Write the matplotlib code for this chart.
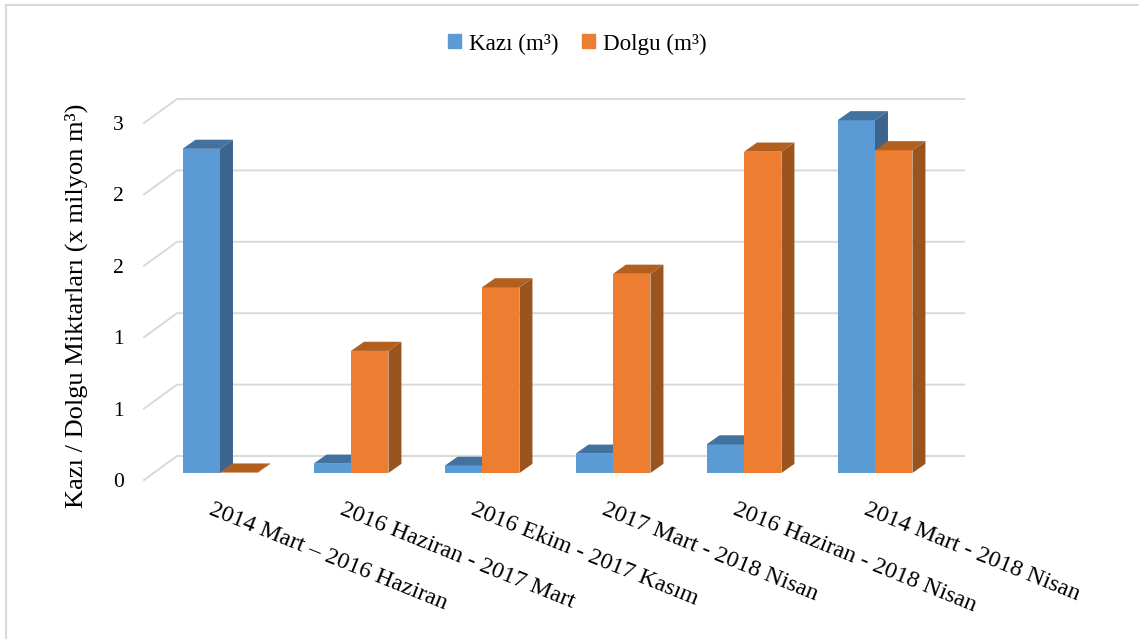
import matplotlib
matplotlib.use("Agg")
import matplotlib.pyplot as plt
from matplotlib.lines import Line2D
from matplotlib.patches import Patch, Polygon
from matplotlib.transforms import ScaledTranslation
import numpy as np

plt.rcParams['font.family'] = ['Liberation Serif', 'DejaVu Serif']

categories = [
    "2014 Mart – 2016 Haziran",
    "2016 Haziran - 2017 Mart",
    "2016 Ekim - 2017 Kasım",
    "2017 Mart - 2018 Nisan",
    "2016 Haziran - 2018 Nisan",
    "2014 Mart - 2018 Nisan",
]
kazi = [2.27, 0.065, 0.05, 0.135, 0.2, 2.47]
dolgu = [0.003, 0.855, 1.30, 1.395, 2.25, 2.26]
y_ticks = [0, 0.5, 1, 1.5, 2, 2.5]
y_tick_labels = ["0", "1", "1", "2", "2", "3"]

W, H = 1139, 639
BAR_W = 0.286
# 3d look, in data units
DX, DY = 0.099, 0.064
GRID = "#d9d9d9"

fig = plt.figure(figsize=(W / 100, H / 100), dpi=100)
ax = fig.add_axes([154.5 / W, 1 - 473 / H, 786 / W, 357 / H])
ax.set_xlim(-0.5, 5.5)
ax.set_ylim(0, 2.5)
ax.patch.set_visible(False)
for s in ax.spines.values():
    s.set_visible(False)

# outer frame of the chart
fig.add_artist(Line2D([6 / W, 6 / W], [0, 1 - 5 / H], color=GRID, lw=1.5))
fig.add_artist(Line2D([6 / W, 1], [1 - 5 / H, 1 - 5 / H], color=GRID, lw=1.5))

# back wall lines + the slanted part on the left
for v in y_ticks:
    ax.plot([-0.58, -0.328, 5.68], [v - 0.049, v + 0.119, v + 0.119],
            color=GRID, lw=1.4, clip_on=False, zorder=1)


def draw_bars(x, values, front, side, top, z):
    ax.bar(x, values, BAR_W, align="edge", color=front, zorder=z)
    for xi, v in zip(x, values):
        ax.add_patch(Polygon([(xi + BAR_W, 0), (xi + BAR_W + DX, DY),
                              (xi + BAR_W + DX, v + DY), (xi + BAR_W, v)],
                             closed=True, fc=side, ec="none", zorder=z, clip_on=False))
        ax.add_patch(Polygon([(xi, v), (xi + DX, v + DY),
                              (xi + BAR_W + DX, v + DY), (xi + BAR_W, v)],
                             closed=True, fc=top, ec="none", zorder=z, clip_on=False))


pos = np.arange(len(categories))
draw_bars(pos - BAR_W, kazi, "#5b9bd5", "#3c648c", "#44729f", 2)
draw_bars(pos, dolgu, "#ed7d31", "#9c541e", "#b3601f", 3)

ax.set_xticks(pos)
ax.set_xticklabels(categories, rotation=-22, ha="left", va="top",
                   rotation_mode="anchor", fontsize=17.3)
ax.set_yticks(y_ticks)
ax.set_yticklabels(y_tick_labels, fontsize=15.5)
ax.tick_params(axis="both", length=0)
ax.tick_params(axis="x", pad=19)
ax.tick_params(axis="y", pad=22)
shift_x = ScaledTranslation(-6 / 100, 0, fig.dpi_scale_trans)
for lab in ax.get_xticklabels():
    lab.set_transform(lab.get_transform() + shift_x)
shift_y = ScaledTranslation(0, -7 / 100, fig.dpi_scale_trans)
for lab in ax.get_yticklabels():
    lab.set_transform(lab.get_transform() + shift_y)

fig.text(76 / W, 1 - 306 / H, "Kazı / Dolgu Miktarları (x milyon m³)", rotation=90,
         ha="center", va="center", fontsize=19)

handles = [Patch(color="#5b9bd5", label="Kazı (m³)"), Patch(color="#ed7d31", label="Dolgu (m³)")]
fig.legend(handles=handles, loc="center", bbox_to_anchor=(577.5 / W, 1 - 44 / H), ncol=2,
           frameon=False, fontsize=16.7, handlelength=0.55, handleheight=0.55,
           handletextpad=0.35, columnspacing=1.0)

plt.savefig("out.png", dpi=100)
plt.close()
